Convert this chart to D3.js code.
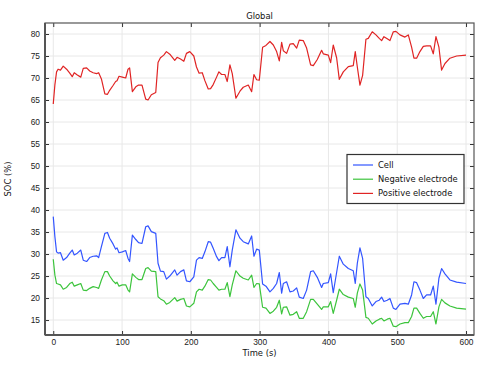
<!DOCTYPE html>
<html>
<head>
<meta charset="utf-8">
<script src="https://cdn.jsdelivr.net/npm/d3@7"></script>
<style>
  body { margin: 0; background: #fff; }
  svg { font-family: "DejaVu Sans", sans-serif; }
</style>
</head>
<body>
<div id="chart"></div>
<script>
const time = [0, 2.4, 4.8, 7, 10.5, 14.5, 19.4, 24, 27.6, 30.5, 35, 40, 43.6, 48.5, 53, 58, 63, 66, 70, 75,
  78.8, 82, 86.9, 90.7, 92.7, 95.6, 100.4, 105.3, 108.7, 111, 115, 120, 124, 129, 134.4, 137.8, 142.6, 149, 152.3, 155.8,
  160.6, 164.5, 169.4, 176.6, 180, 185, 189.8, 193.6, 198.5, 204.3, 208.2, 212, 216.6, 220.4, 225.3, 228.7, 232.5, 237.4, 240.8, 244.7,
  249.5, 252.9, 256.8, 260.2, 265.5, 271.4, 276.2, 283.5, 288.4, 291.7, 295.6, 299.5, 304.3, 309.2, 315, 319.9, 324.7, 328.6, 332, 334.4,
  339.2, 344.1, 348.9, 353.8, 357.6, 363.4, 368.3, 374.1, 378, 383.8, 390.1, 392.5, 399.8, 403.2, 407, 411.9, 415.8, 421.6, 428.9, 436.1,
  439, 442, 445.8, 449.7, 454.5, 457.9, 463.7, 469.1, 473.9, 477.3, 480.7, 485.5, 489.4, 494.3, 498.1, 504, 511.2, 516.1, 520.9, 524.3,
  528.2, 533, 537.9, 542.7, 548.5, 552.4, 556.3, 560.6, 564.5, 569.4, 576.6, 586.3, 600];

const cell = [38.5, 33.9, 30.5, 30.2, 30.3, 28.6, 29.2, 30.2, 30.9, 29.8, 30.2, 30.9, 28.6, 28.3, 29.2, 29.5, 29.6, 29.2, 31.7, 34.7,
  34.9, 33.6, 32.3, 31.1, 31.4, 30.3, 30.5, 30.8, 29.0, 28.3, 34.3, 33.3, 32.6, 32.4, 36.2, 36.4, 35.1, 34.7, 27.9, 26.1,
  26.0, 24.3, 25.0, 26.4, 25.2, 26.0, 26.4, 23.9, 23.7, 24.8, 28.6, 29.2, 29.0, 30.5, 32.8, 32.7, 31.3, 29.4, 28.5, 29.2,
  29.2, 31.7, 27.1, 30.9, 35.5, 33.6, 32.8, 32.3, 34.1, 29.5, 31.1, 30.9, 23.2, 22.7, 21.4, 22.2, 23.3, 25.8, 21.1, 23.3,
  23.7, 21.4, 21.6, 22.3, 20.2, 19.9, 21.8, 26.0, 26.2, 24.7, 22.4, 23.3, 23.5, 25.5, 21.2, 25.8, 29.5, 27.7, 26.7, 26.2,
  23.3, 27.9, 31.4, 29.0, 20.3, 19.9, 18.2, 19.2, 19.5, 20.2, 19.2, 19.5, 19.9, 17.7, 17.4, 18.6, 18.8, 18.6, 20.7, 23.7,
  23.5, 21.8, 19.9, 20.7, 20.7, 22.7, 18.6, 24.5, 26.7, 25.5, 24.1, 23.6, 23.3];

const negative = [28.8, 25.2, 23.3, 23.2, 23.0, 22.0, 22.4, 23.3, 23.6, 22.7, 23.0, 23.3, 21.8, 21.7, 22.2, 22.6, 22.4, 22.2, 24.1, 26.0,
  26.0, 25.0, 23.9, 23.3, 23.6, 22.7, 23.0, 23.0, 21.8, 21.4, 25.5, 24.7, 24.2, 24.2, 26.7, 26.9, 26.1, 26.0, 20.3, 19.8,
  19.4, 18.6, 19.0, 20.1, 19.3, 19.7, 19.9, 18.2, 18.0, 18.8, 21.4, 22.0, 21.8, 22.7, 24.2, 24.1, 23.3, 22.4, 21.8, 22.0,
  22.0, 23.5, 20.3, 23.0, 26.2, 25.0, 24.5, 24.1, 25.2, 22.4, 23.3, 23.2, 17.9, 17.7, 16.5, 17.0, 17.9, 19.5, 16.4, 17.9,
  18.0, 16.1, 16.3, 16.9, 15.4, 15.4, 16.9, 19.7, 19.7, 18.6, 17.4, 18.0, 18.0, 19.2, 16.5, 19.5, 22.0, 20.8, 20.2, 19.9,
  17.9, 21.1, 23.2, 21.8, 15.6, 15.4, 14.1, 14.8, 15.2, 15.4, 14.8, 15.2, 15.4, 13.6, 13.5, 14.1, 14.4, 14.4, 15.8, 17.7,
  17.7, 16.5, 15.4, 15.8, 15.8, 16.9, 14.1, 18.0, 19.7, 18.9, 18.2, 17.7, 17.5];

const positive = [64.1, 68.5, 71.4, 72.0, 71.8, 72.7, 72.0, 71.1, 70.3, 71.2, 70.7, 70.2, 72.2, 72.3, 71.6, 71.2, 71.0, 71.2, 69.8, 66.4,
  66.3, 67.2, 68.3, 69.2, 69.4, 70.4, 70.2, 70.0, 72.0, 72.3, 66.9, 68.0, 68.4, 68.4, 65.2, 65.0, 66.2, 66.7, 73.5, 74.6,
  75.2, 76.0, 75.4, 74.0, 74.7, 74.3, 73.8, 75.6, 76.0, 75.0, 72.5, 71.1, 71.2, 69.4, 67.5, 67.6, 68.5, 70.2, 71.4, 70.8,
  70.8, 69.2, 73.0, 71.0, 65.4, 67.0, 67.9, 68.4, 66.9, 70.8, 69.6, 69.5, 77.0, 77.4, 78.3, 77.5, 76.0, 73.9, 78.1, 76.2,
  75.6, 77.7, 77.8, 76.8, 78.6, 78.5, 76.8, 73.0, 72.8, 74.2, 76.3, 75.5, 75.2, 73.5, 77.5, 74.6, 69.7, 71.4, 72.6, 72.8,
  76.0, 72.5, 68.4, 70.6, 78.8, 79.0, 80.5, 79.8, 79.0, 78.5, 79.4, 78.9, 78.5, 80.5, 80.6, 79.8, 79.3, 79.8, 77.0, 74.5,
  74.5, 76.0, 77.2, 77.3, 77.3, 75.5, 79.4, 77.0, 71.8, 73.3, 74.5, 75.0, 75.2];

const xTicks = [0, 100, 200, 300, 400, 500, 600];
const yTicks = [15, 20, 25, 30, 35, 40, 45, 50, 55, 60, 65, 70, 75, 80];

const series = [
  { name: 'Cell', values: cell, color: '#3355ff' },
  { name: 'Negative electrode', values: negative, color: '#3cc43c' },
  { name: 'Positive electrode', values: positive, color: '#e02424' }
];

const width = 481;
const height = 366;
const margin = { top: 23, right: 7, bottom: 31, left: 45 };
const plotW = width - margin.left - margin.right;
const plotH = height - margin.top - margin.bottom;
const fontSize = '8.4px';

const svg = d3.select('#chart').append('svg')
  .attr('width', width).attr('height', height);

const x = d3.scaleLinear().domain([-12, 611.6]).range([0, plotW]);
const y = d3.scaleLinear().domain([11.6, 82.5]).range([plotH, 0]);

const g = svg.append('g').attr('transform', `translate(${margin.left},${margin.top})`);

// grid
g.append('g').selectAll('line').data(xTicks).enter().append('line')
  .attr('x1', d => x(d)).attr('x2', d => x(d))
  .attr('y1', 0).attr('y2', plotH)
  .attr('stroke', '#e8e8e8').attr('stroke-width', 1);
g.append('g').selectAll('line').data(yTicks).enter().append('line')
  .attr('x1', 0).attr('x2', plotW)
  .attr('y1', d => y(d)).attr('y2', d => y(d))
  .attr('stroke', '#e8e8e8').attr('stroke-width', 1);

// axes, ticks point inward
const tickStyle = sel => {
  sel.select('.domain').remove();
  sel.selectAll('line').attr('stroke', '#333');
  sel.selectAll('text').attr('fill', '#222').style('font-size', fontSize);
};

g.append('g').attr('transform', `translate(0,${plotH})`)
  .call(d3.axisBottom(x).tickValues(xTicks).tickSizeInner(-4).tickSizeOuter(0).tickPadding(4))
  .call(tickStyle);
g.append('g')
  .call(d3.axisTop(x).tickValues(xTicks).tickSizeInner(-4).tickSizeOuter(0).tickFormat(''))
  .call(tickStyle);
g.append('g')
  .call(d3.axisLeft(y).tickValues(yTicks).tickSizeInner(-4).tickSizeOuter(0).tickPadding(5))
  .call(tickStyle);
g.append('g').attr('transform', `translate(${plotW},0)`)
  .call(d3.axisRight(y).tickValues(yTicks).tickSizeInner(-4).tickSizeOuter(0).tickFormat(''))
  .call(tickStyle);

// lines
const line = d3.line()
  .x((d, i) => x(time[i]))
  .y(d => y(d));

g.append('g').selectAll('path').data(series).enter().append('path')
  .attr('d', d => line(d.values))
  .attr('fill', 'none')
  .attr('stroke', d => d.color)
  .attr('stroke-width', 1.2)
  .attr('stroke-linejoin', 'round');

// frame
g.append('rect').attr('x', 0).attr('y', 0).attr('width', plotW).attr('height', plotH)
  .attr('fill', 'none').attr('stroke', '#555').attr('stroke-width', 1.2);
g.append('line').attr('x1', 0).attr('x2', 0).attr('y1', 0).attr('y2', plotH)
  .attr('stroke', '#555').attr('stroke-width', 2);
g.append('line').attr('x1', 0).attr('x2', plotW).attr('y1', plotH).attr('y2', plotH)
  .attr('stroke', '#555').attr('stroke-width', 2);

// legend
const legend = svg.append('g').attr('transform', 'translate(347,154.5)');
legend.append('rect').attr('width', 117).attr('height', 49)
  .attr('fill', '#fff').attr('stroke', '#333').attr('stroke-width', 1.2);
series.forEach((s, i) => {
  const ly = 10.5 + i * 14.2;
  legend.append('line').attr('x1', 6).attr('x2', 26).attr('y1', ly).attr('y2', ly)
    .attr('stroke', s.color).attr('stroke-width', 1.2);
  legend.append('text').attr('x', 31).attr('y', ly).attr('dy', '0.35em')
    .style('font-size', fontSize).attr('fill', '#111').text(s.name);
});

// titles
svg.append('text').attr('x', margin.left + plotW / 2).attr('y', 19)
  .attr('text-anchor', 'middle').style('font-size', fontSize).attr('fill', '#111').text('Global');
svg.append('text').attr('x', margin.left + plotW / 2).attr('y', 356)
  .attr('text-anchor', 'middle').style('font-size', fontSize).attr('fill', '#111').text('Time (s)');
svg.append('text').attr('transform', `translate(10.5,${margin.top + plotH / 2}) rotate(-90)`)
  .attr('text-anchor', 'middle').style('font-size', fontSize).attr('fill', '#111').text('SOC (%)');
</script>
</body>
</html>
